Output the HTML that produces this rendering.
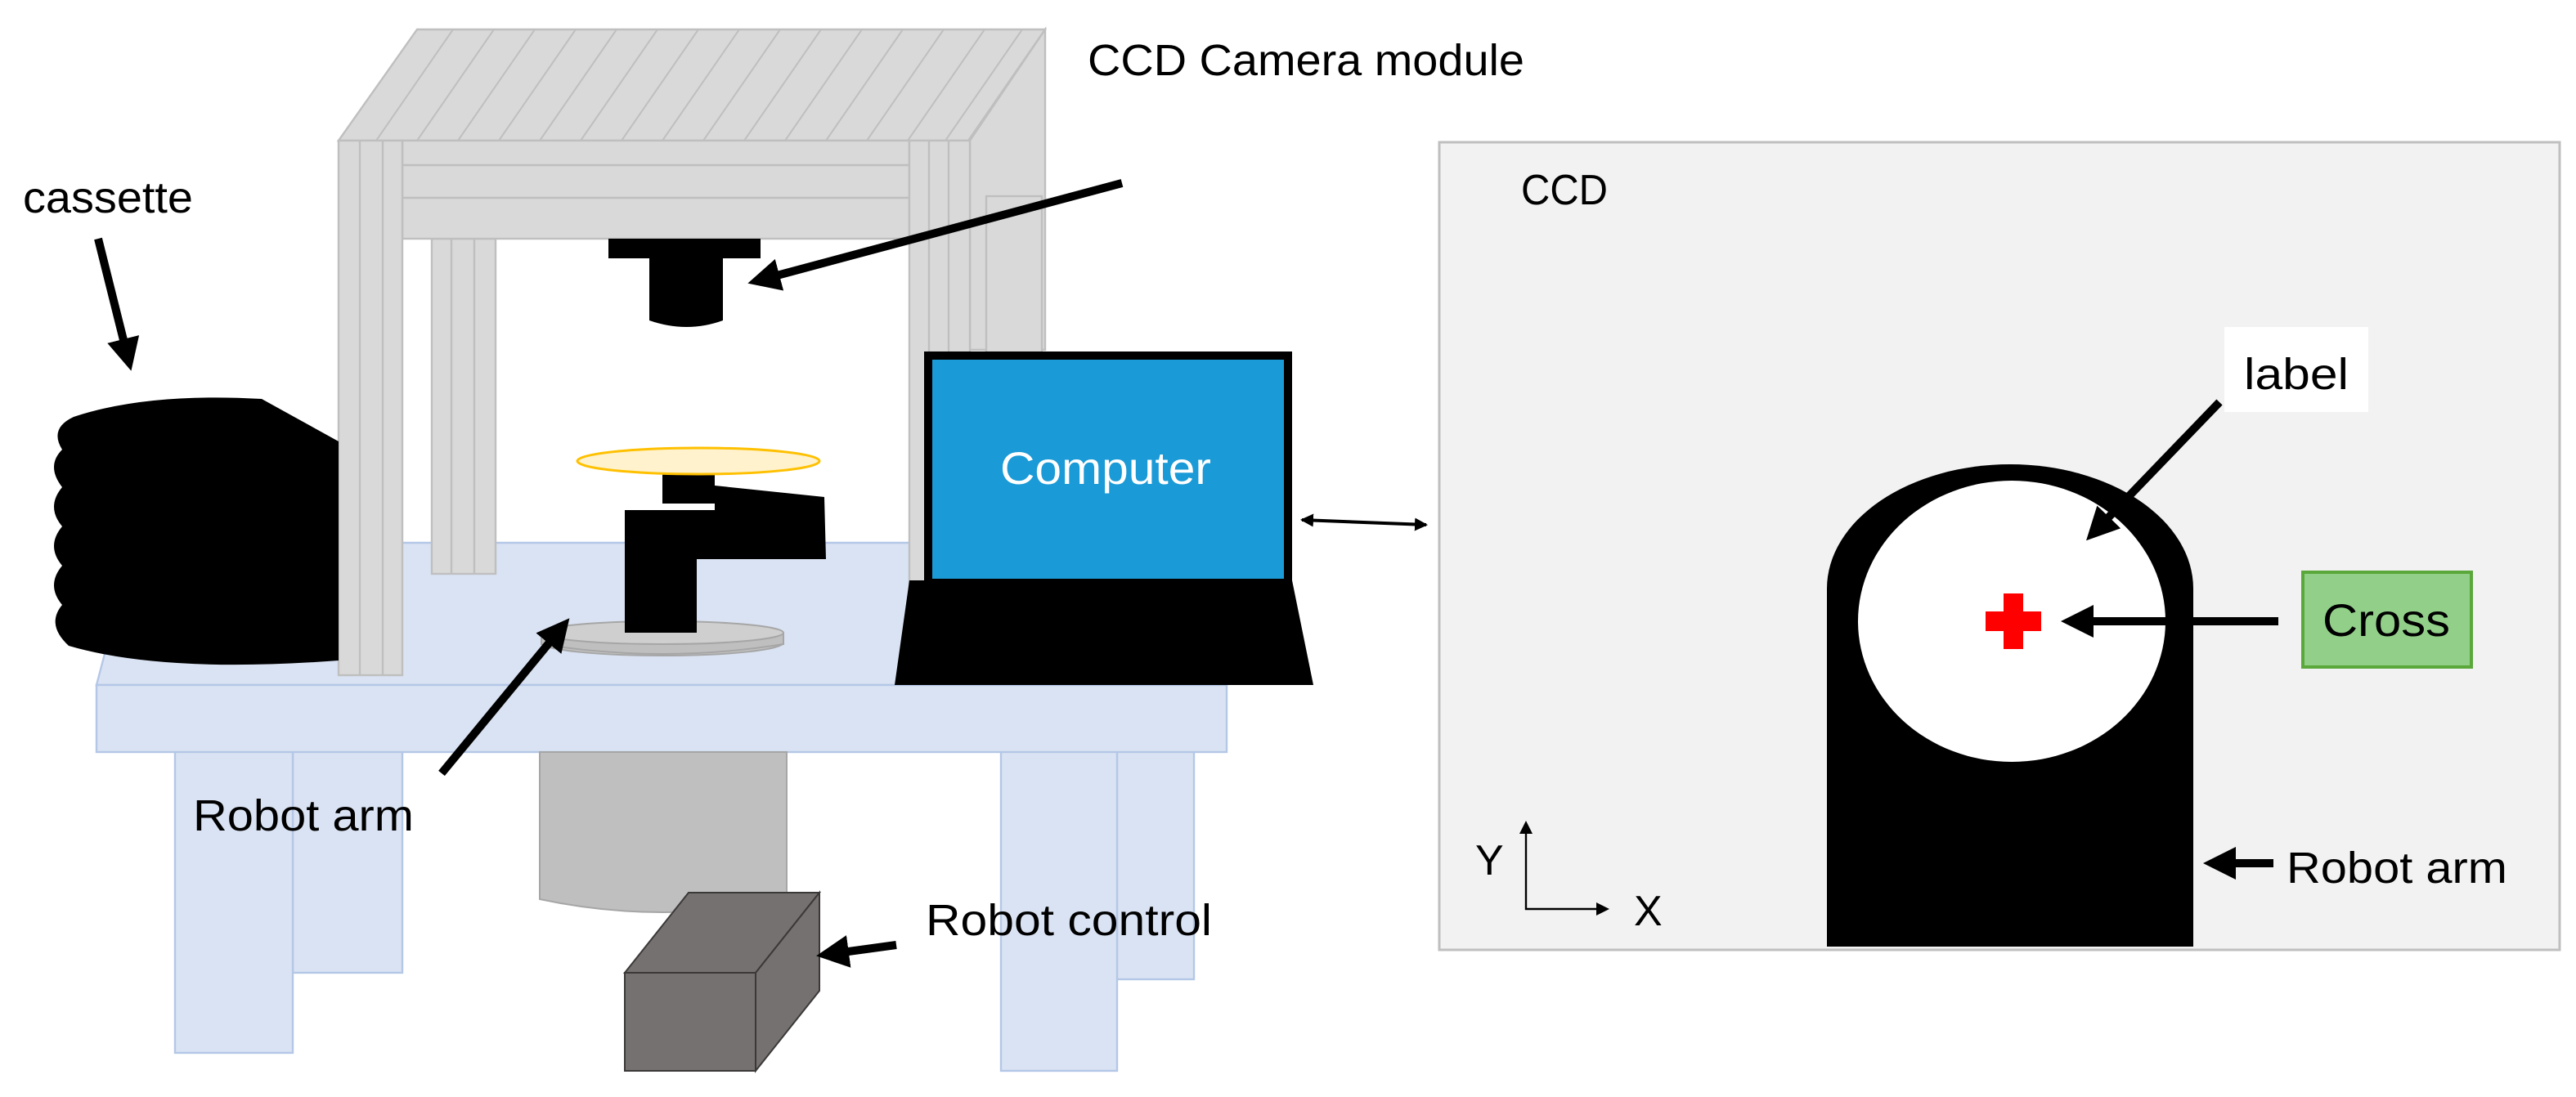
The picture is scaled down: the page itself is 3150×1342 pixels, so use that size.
<!DOCTYPE html>
<html><head><meta charset="utf-8"><style>html,body{margin:0;padding:0;background:#fff}svg{display:block}text{font-family:"Liberation Sans",sans-serif;fill:#000}</style></head>
<body>
<svg width="3150" height="1342" viewBox="0 0 1575 671" xmlns="http://www.w3.org/2000/svg">
<defs>
<marker id="ah" markerWidth="4" markerHeight="4" refX="3" refY="2" orient="auto" markerUnits="strokeWidth"><path d="M0,0 L4,2 L0,4 Z" fill="#000"/></marker>
<marker id="sh" markerWidth="8" markerHeight="8" refX="7" refY="4" orient="auto-start-reverse" markerUnits="userSpaceOnUse"><path d="M0,0 L8,4 L0,8 Z" fill="#000"/></marker>
</defs>
<g fill="#dae3f3" stroke="#b4c7e7" stroke-width="1.2">
<rect x="179" y="440" width="67" height="155"/>
<rect x="107" y="440" width="72" height="204"/>
<rect x="683" y="440" width="47" height="159"/>
<rect x="612" y="440" width="71" height="215"/>
<polygon points="59,419 64,400 120,332 745,332 750,419"/>
<rect x="59" y="419" width="691" height="41"/>
</g>
<path d="M330,460 L481,460 L481,550 Q405,566 330,550 Z" fill="#bfbfbf" stroke="#a6a6a6"/>
<g fill="#767171" stroke="#3b3838" stroke-width="1">
<polygon points="382,595 421,546 501,546 462,595"/>
<polygon points="462,595 501,546 501,606 462,655"/>
<rect x="382" y="595" width="80" height="60"/>
</g>
<g fill="#d9d9d9" stroke="#bfbfbf" stroke-width="1.2">
<polygon points="593,86 639,18 639,214 593,214"/>
<rect x="264" y="146" width="39" height="205"/>
<line x1="276" y1="146" x2="276" y2="351"/><line x1="290" y1="146" x2="290" y2="351"/>
<rect x="603" y="120" width="34" height="240"/>
<polygon points="207,86 255,18 639,18 592,86"/>
<rect x="246" y="86" width="310" height="60"/>
<line x1="246" y1="101" x2="556" y2="101"/><line x1="246" y1="121" x2="556" y2="121"/>
<rect x="207" y="86" width="39" height="327"/>
<line x1="220" y1="86" x2="220" y2="413"/><line x1="234" y1="86" x2="234" y2="413"/>
<rect x="556" y="86" width="37" height="300"/>
<line x1="568" y1="86" x2="568" y2="386"/><line x1="580" y1="86" x2="580" y2="386"/>
</g>
<g stroke="#bfbfbf" stroke-width="1">
<line x1="230" y1="86" x2="277" y2="18"/><line x1="255" y1="86" x2="302" y2="18"/><line x1="280" y1="86" x2="327" y2="18"/><line x1="305" y1="86" x2="352" y2="18"/><line x1="330" y1="86" x2="377" y2="18"/><line x1="355" y1="86" x2="402" y2="18"/><line x1="380" y1="86" x2="427" y2="18"/><line x1="405" y1="86" x2="452" y2="18"/><line x1="430" y1="86" x2="477" y2="18"/><line x1="455" y1="86" x2="502" y2="18"/><line x1="480" y1="86" x2="527" y2="18"/><line x1="505" y1="86" x2="552" y2="18"/><line x1="530" y1="86" x2="577" y2="18"/><line x1="555" y1="86" x2="602" y2="18"/><line x1="578" y1="86" x2="625" y2="18"/>
</g>
<rect x="372" y="146" width="93" height="12" fill="#000"/>
<path d="M397,158 L442,158 L442,196 Q420,204 397,196 Z" fill="#000"/>
<path d="M207,270 L160,244 Q90,240 45,255 Q30,262 38,275 Q28,285 38,298 Q28,310 38,322 Q28,334 38,346 Q28,358 38,370 Q28,382 42,395 Q100,412 207,404 Z" fill="#000"/>
<ellipse cx="405" cy="393" rx="74" ry="8" fill="#c4c4c4" stroke="#a6a6a6"/>
<path d="M331,387 L331,394 Q405,406 479,394 L479,387" fill="#bfbfbf" stroke="#a6a6a6"/>
<ellipse cx="405" cy="387" rx="74" ry="7" fill="#cfcfcf" stroke="#a6a6a6"/>
<rect x="405" y="288" width="32" height="20" fill="#000"/>
<polygon points="437,297 504,304 505,342 426,342 426,312 437,312" fill="#000"/>
<rect x="382" y="312" width="44" height="75" fill="#000"/>
<ellipse cx="427" cy="282" rx="74" ry="8" fill="#fff2cc" stroke="#ffc000" stroke-width="1.5"/>
<rect x="565" y="215" width="225" height="140" fill="#000"/>
<rect x="570" y="220" width="215" height="134" fill="#1a9ad6"/>
<polygon points="556,355 790,355 803,419 547,419" fill="#000"/>
<text x="676" y="296" font-size="28" text-anchor="middle" style="fill:#fff" textLength="129" lengthAdjust="spacingAndGlyphs">Computer</text>
<g stroke="#000" stroke-width="5" fill="none" marker-end="url(#ah)">
<line x1="60" y1="146" x2="79" y2="222"/>
<line x1="686" y1="112" x2="462" y2="172"/>
<line x1="270" y1="473" x2="345" y2="382"/>
<line x1="548" y1="578" x2="504" y2="584"/>
</g>
<line x1="796" y1="318" x2="872" y2="321" stroke="#000" stroke-width="2" marker-start="url(#sh)" marker-end="url(#sh)"/>
<text x="14" y="130" font-size="27" textLength="104" lengthAdjust="spacingAndGlyphs">cassette</text>
<text x="665" y="46" font-size="27" textLength="267" lengthAdjust="spacingAndGlyphs">CCD Camera module</text>
<text x="118" y="508" font-size="27" textLength="135" lengthAdjust="spacingAndGlyphs">Robot arm</text>
<text x="566" y="572" font-size="27" textLength="175" lengthAdjust="spacingAndGlyphs">Robot control</text>
<rect x="880" y="87" width="685" height="494" fill="#f2f2f2" stroke="#bfbfbf" stroke-width="1.5"/>
<text x="930" y="125" font-size="26" textLength="53" lengthAdjust="spacingAndGlyphs">CCD</text>
<path d="M1117,579 L1117,360 A112,76 0 0 1 1341,360 L1341,579 Z" fill="#000"/>
<ellipse cx="1230" cy="380" rx="94" ry="86" fill="#fff"/>
<rect x="1225" y="363" width="12" height="34" fill="#f00"/>
<rect x="1214" y="374" width="34" height="12" fill="#f00"/>
<rect x="1360" y="200" width="88" height="52" fill="#fff"/>
<text x="1404" y="238" font-size="27" text-anchor="middle" textLength="64" lengthAdjust="spacingAndGlyphs">label</text>
<rect x="1408" y="350" width="103" height="58" fill="#92d08a" stroke="#5aa73a" stroke-width="2"/>
<text x="1459" y="389" font-size="28" text-anchor="middle" textLength="78" lengthAdjust="spacingAndGlyphs">Cross</text>
<g stroke="#000" stroke-width="5" fill="none" marker-end="url(#ah)">
<line x1="1357" y1="246" x2="1279" y2="327"/>
<line x1="1393" y1="380" x2="1265" y2="380"/>
<line x1="1390" y1="528" x2="1352" y2="528"/>
</g>
<text x="1398" y="540" font-size="27" textLength="135" lengthAdjust="spacingAndGlyphs">Robot arm</text>
<g stroke="#000" stroke-width="1.2" fill="none">
<polyline points="933,505 933,556 980,556"/>
</g>
<path d="M929,510 L933,502 L937,510 Z M976,552 L984,556 L976,560 Z" fill="#000"/>
<text x="902" y="535" font-size="26">Y</text>
<text x="999" y="566" font-size="26">X</text>
</svg>
</body></html>
